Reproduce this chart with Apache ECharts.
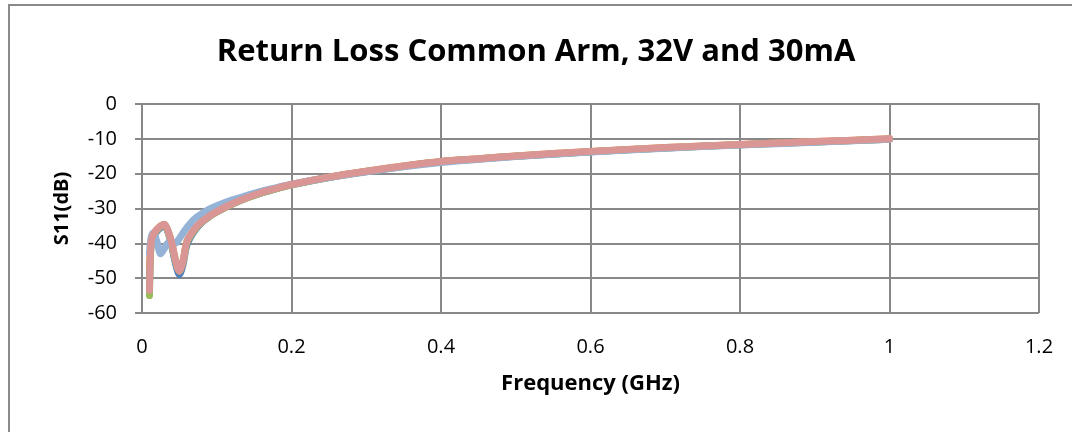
<!DOCTYPE html>
<html><head><meta charset="utf-8">
<script src="https://cdn.jsdelivr.net/npm/echarts@6/dist/echarts.min.js"></script>
<style>html,body{margin:0;padding:0;background:#fff}#c{width:1072px;height:432px}</style>
</head><body><div id="c"></div>
<script>
const freq = [0.01,0.012,0.015,0.02,0.025,0.03,0.035,0.04,0.045,0.05,0.055,0.06,0.07,0.08,0.09,0.1,0.12,0.14,0.16,0.18,0.2,0.25,0.3,0.35,0.4,0.45,0.5,0.6,0.7,0.8,0.9,1.0];
const s11Blue   = [-52,-40.5,-38,-36.5,-35.5,-35,-37,-41,-46,-49,-46,-40.5,-36.5,-34,-32.3,-31,-28.8,-27,-25.5,-24.3,-23.2,-21.1,-19.4,-17.9,-16.6,-15.8,-15.0,-13.7,-12.6,-11.7,-10.9,-10.1];
const s11Orange = [-47,-40,-37.5,-36,-35,-34.6,-36.6,-40.2,-45,-47.8,-45,-39.5,-36,-33.8,-32.2,-30.9,-28.7,-26.9,-25.4,-24.2,-23.1,-21,-19.3,-17.8,-16.5,-15.7,-14.9,-13.6,-12.5,-11.6,-10.8,-10.0];
const s11Green  = [-55,-41,-37.8,-36.2,-35.2,-34.7,-36.7,-40.4,-45.3,-48,-45.2,-39.8,-36.2,-33.9,-32.3,-31,-28.8,-27,-25.5,-24.3,-23.2,-21.1,-19.4,-17.9,-16.6,-15.8,-15.0,-13.7,-12.6,-11.7,-10.9,-10.1];
const s11Light  = [-43,-38.5,-37,-39.5,-43,-41.5,-39.8,-40.3,-40,-38.6,-37,-35.5,-33,-31.5,-30.2,-29.2,-27.6,-26.3,-25,-24,-23,-21.1,-19.5,-18,-16.8,-15.9,-15.1,-13.8,-12.7,-11.8,-11.0,-10.1];
const s11Salmon = [-53.5,-40,-37.5,-36,-35,-34.5,-36.5,-40,-45,-48,-45,-39.5,-36,-33.8,-32.2,-30.9,-28.7,-26.9,-25.4,-24.2,-23.1,-21,-19.3,-17.8,-16.5,-15.7,-14.9,-13.6,-12.5,-11.6,-10.8,-10.0];
const xTicks = [0,0.2,0.4,0.6,0.8,1,1.2];
const yTicks = [0,-10,-20,-30,-40,-50,-60];

function pairs(v){ return freq.map((f,i)=>[f,v[i]]); }
const seriesDefs = [
  {name:'S11 a', data:s11Blue, color:'#4F81BD'},
  {name:'S11 b', data:s11Orange, color:'#F79646'},
  {name:'S11 c', data:s11Green, color:'#9BBB59'},
  {name:'S11 d', data:s11Light, color:'#95B3D7'},
  {name:'S11 e', data:s11Salmon, color:'#D99694'}
];
const font = '"Open Sans", sans-serif';
const chart = echarts.init(document.getElementById('c'), null, {renderer:'canvas'});
chart.setOption({
  animation:false,
  backgroundColor:'#fff',
  title:{text:'Return Loss Common Arm, 32V and 30mA', left:'center', top:32,
    textStyle:{fontFamily:font, fontSize:31, fontWeight:'bold', color:'#000'}},
  graphic:[{type:'rect', shape:{x:9,y:5,width:1200,height:600}, style:{fill:'none', stroke:'#8a8a8a', lineWidth:2}, silent:true, z:-1}],
  grid:{left:142, right:33, top:104, bottom:119},
  xAxis:{type:'value', min:0, max:1.2, interval:0.2,
    name:'Frequency (GHz)', nameLocation:'middle', nameGap:60,
    nameTextStyle:{fontFamily:font, fontSize:22, fontWeight:'bold', color:'#000'},
    axisLine:{lineStyle:{color:'#888', width:2}},
    axisTick:{show:true, inside:false, length:7, lineStyle:{color:'#888', width:2}},
    axisLabel:{margin:24, fontFamily:font, fontSize:20, color:'#000',
      formatter:v=>{const t=xTicks.find(x=>Math.abs(x-v)<1e-9);return t===undefined?'':String(t);}},
    splitLine:{show:true, lineStyle:{color:'#888', width:2}}},
  yAxis:{type:'value', min:-60, max:0, interval:10,
    name:'S11(dB)', nameLocation:'middle', nameGap:70,
    nameTextStyle:{fontFamily:font, fontSize:20, fontWeight:'bold', color:'#000'},
    axisLine:{show:true, lineStyle:{color:'#888', width:2}},
    axisTick:{show:true, inside:false, length:7, lineStyle:{color:'#888', width:2}},
    axisLabel:{margin:25, fontFamily:font, fontSize:20, color:'#000',
      formatter:v=>{const t=yTicks.find(y=>Math.abs(y-v)<1e-9);return t===undefined?'':String(t);}},
    splitLine:{show:true, lineStyle:{color:'#888', width:2}}},
  series: seriesDefs.map(s=>({type:'line', name:s.name, data:pairs(s.data), smooth:0.3,
    showSymbol:false, lineStyle:{color:s.color, width:7, cap:'round', join:'round'}, itemStyle:{color:s.color}}))
});
</script></body></html>
